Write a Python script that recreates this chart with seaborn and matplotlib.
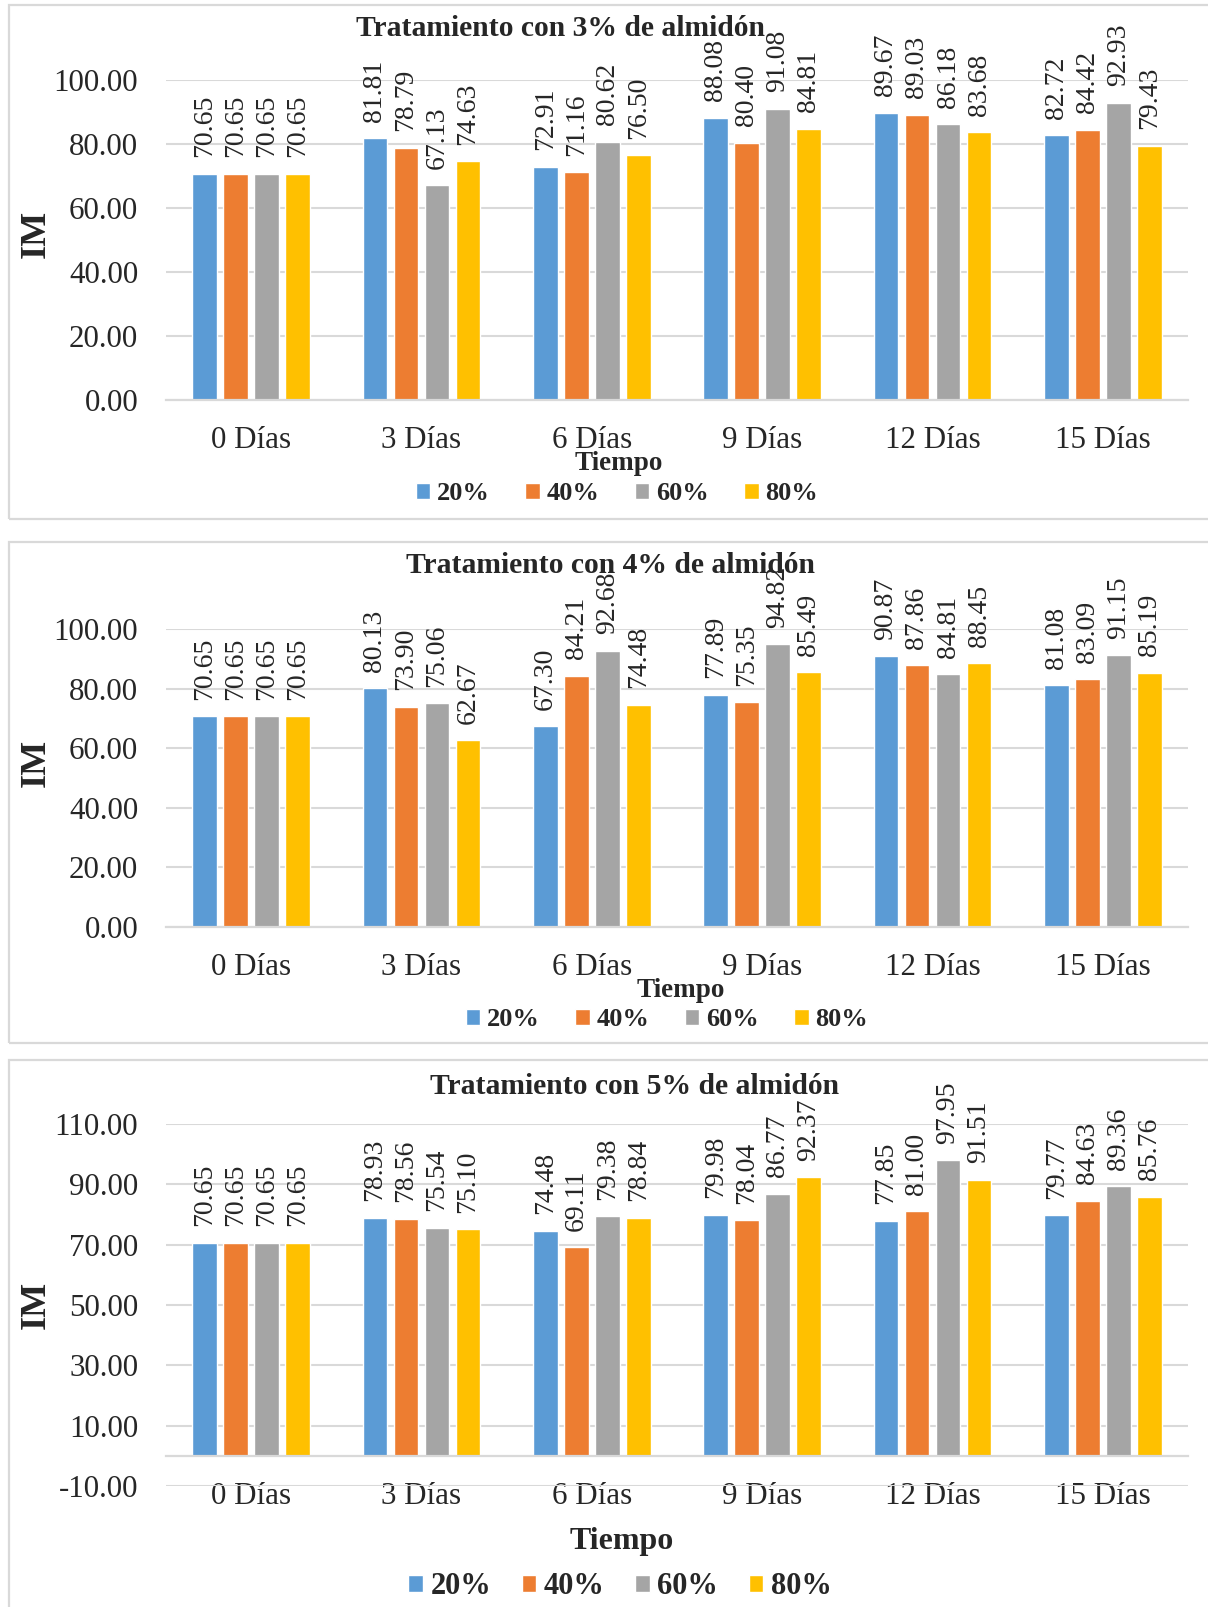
import matplotlib
matplotlib.use("Agg")
import matplotlib.pyplot as plt
from matplotlib.patches import Rectangle
import seaborn as sns
import pandas as pd

# ---------------- data ----------------
days = ["0 Días", "3 Días", "6 Días", "9 Días", "12 Días", "15 Días"]
series = ["20%", "40%", "60%", "80%"]

t3_20 = [70.65, 81.81, 72.91, 88.08, 89.67, 82.72]
t3_40 = [70.65, 78.79, 71.16, 80.40, 89.03, 84.42]
t3_60 = [70.65, 67.13, 80.62, 91.08, 86.18, 92.93]
t3_80 = [70.65, 74.63, 76.50, 84.81, 83.68, 79.43]

t4_20 = [70.65, 80.13, 67.30, 77.89, 90.87, 81.08]
t4_40 = [70.65, 73.90, 84.21, 75.35, 87.86, 83.09]
t4_60 = [70.65, 75.06, 92.68, 94.82, 84.81, 91.15]
t4_80 = [70.65, 62.67, 74.48, 85.49, 88.45, 85.19]

t5_20 = [70.65, 78.93, 74.48, 79.98, 77.85, 79.77]
t5_40 = [70.65, 78.56, 69.11, 78.04, 81.00, 84.63]
t5_60 = [70.65, 75.54, 79.38, 86.77, 97.95, 89.36]
t5_80 = [70.65, 75.10, 78.84, 92.37, 91.51, 85.76]

titles = ["Tratamiento con 3% de almidón",
          "Tratamiento con 4% de almidón",
          "Tratamiento con 5% de almidón"]
y_ticks_1 = [0, 20, 40, 60, 80, 100]
y_ticks_2 = [0, 20, 40, 60, 80, 100]
y_ticks_3 = [-10, 10, 30, 50, 70, 90, 110]

palette = ["#5B9BD5", "#ED7D31", "#A5A5A5", "#FFC000"]

# ---------------- style ----------------
sns.set_style("white")
plt.rcParams["font.family"] = ["Liberation Serif", "DejaVu Serif"]
plt.rcParams["axes.unicode_minus"] = False

W, H = 1208, 1607
fig = plt.figure(figsize=(W / 100, H / 100), dpi=100)

GRID = "#D9D9D9"


def fx(px):
    return px / W


def fy(py):
    return 1 - py / H


def long_df(cols):
    rows = []
    for s, vals in zip(series, cols):
        for d, v in zip(days, vals):
            rows.append({"Tiempo": d, "Serie": s, "IM": v})
    return pd.DataFrame(rows)


panels = [
    dict(cols=[t3_20, t3_40, t3_60, t3_80], ticks=y_ticks_1, ylim=(0, 100),
         ax_top=80, ax_bot=400, box=(5, 519), title_xy=(561, 28),
         tiempo_xy=(619, 464), leg_xy=(617, 494), im_y=0.52,
         tiempo_fs=19.5, leg_fs=19, hl=0.55, cs=1.35),
    dict(cols=[t4_20, t4_40, t4_60, t4_80], ticks=y_ticks_2, ylim=(0, 100),
         ax_top=629, ax_bot=927, box=(542, 1043), title_xy=(611, 566),
         tiempo_xy=(681, 990), leg_xy=(667, 1020), im_y=0.55,
         tiempo_fs=19.5, leg_fs=19, hl=0.55, cs=1.35),
    dict(cols=[t5_20, t5_40, t5_60, t5_80], ticks=y_ticks_3, ylim=(-10, 110),
         ax_top=1124, ax_bot=1486, box=(1060, 1640), title_xy=(635, 1086),
         tiempo_xy=(622, 1541), leg_xy=(620, 1587), im_y=0.50,
         tiempo_fs=23, leg_fs=22, hl=0.47, cs=1.0),
]

AX_L, AX_R = 166, 1188

for i, p in enumerate(panels):
    # panel border
    top, bot = p["box"]
    fig.add_artist(Rectangle((fx(9), fy(bot)), 1.2, (bot - top) / H,
                             transform=fig.transFigure, fill=False,
                             ec=GRID, lw=1.6, zorder=0))

    ax = fig.add_axes([fx(AX_L), fy(p["ax_bot"]), (AX_R - AX_L) / W,
                       (p["ax_bot"] - p["ax_top"]) / H])
    df = long_df(p["cols"])
    sns.barplot(data=df, x="Tiempo", y="IM", hue="Serie", order=days,
                hue_order=series, palette=palette, width=0.728, gap=0.21,
                saturation=1, errorbar=None, ax=ax, legend=True)

    ax.set_xlim(-0.5, 5.5)
    ax.set_ylim(*p["ylim"])
    ax.set_yticks(p["ticks"])
    ax.set_yticklabels([f"{t:.2f}" for t in p["ticks"]])
    ax.yaxis.grid(True, color=GRID, lw=1.5)
    ax.set_axisbelow(True)
    for s in ["top", "right", "left"]:
        ax.spines[s].set_visible(False)
    ax.spines["bottom"].set_position(("data", 0))
    ax.spines["bottom"].set_color(GRID)
    ax.spines["bottom"].set_linewidth(1.6)
    ax.tick_params(axis="y", length=0, pad=20, labelsize=22.3)
    ax.tick_params(axis="x", length=0, pad=19, labelsize=22.3)

    for cont in ax.containers:
        ax.bar_label(cont, fmt="%.2f", rotation=90, padding=12, fontsize=20)

    ax.set_xlabel("")
    ax.set_ylabel("IM", fontsize=26, fontweight="bold", va="center")
    ax.yaxis.set_label_coords((36 - AX_L) / (AX_R - AX_L), p["im_y"])

    handles, labels = ax.get_legend_handles_labels()
    if ax.legend_:
        ax.legend_.remove()
    ax.legend(handles, labels, loc="center",
              bbox_to_anchor=(fx(p["leg_xy"][0]), fy(p["leg_xy"][1])),
              bbox_transform=fig.transFigure, ncol=4, frameon=False,
              prop={"family": "Liberation Serif", "weight": "bold",
                    "size": p["leg_fs"]},
              handlelength=p["hl"], handleheight=p["hl"], handletextpad=0.25,
              columnspacing=p["cs"], borderpad=0)

    fig.text(fx(p["title_xy"][0]), fy(p["title_xy"][1]), titles[i],
             ha="center", va="center", fontsize=21.3, fontweight="bold")
    fig.text(fx(p["tiempo_xy"][0]), fy(p["tiempo_xy"][1]), "Tiempo",
             ha="center", va="center", fontsize=p["tiempo_fs"],
             fontweight="bold")

fig.savefig("out.png", dpi=100, facecolor="white")
